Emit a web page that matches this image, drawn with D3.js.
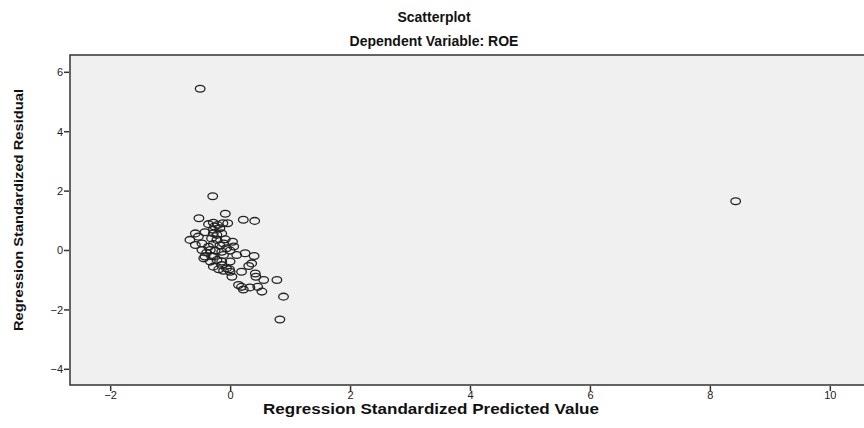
<!DOCTYPE html>
<html><head><meta charset="utf-8">
<script src="https://cdn.jsdelivr.net/npm/d3@7"></script>
<style>body{margin:0;background:#fff;}svg{display:block;}</style>
</head><body><svg id="c" width="864" height="428"></svg>
<script>
const title = "Scatterplot";
const subtitle = "Dependent Variable: ROE";
const xLabel = "Regression Standardized Predicted Value";
const yLabel = "Regression Standardized Residual";
const xTicks = [-2, 0, 2, 4, 6, 8, 10];
const yTicks = [-4, -2, 0, 2, 4, 6];
const predicted = [-0.50, 8.43, -0.29, -0.52, -0.08, 0.22, 0.41, -0.36, -0.28, -0.21, -0.12, -0.04, -0.26, -0.17, -0.42, -0.58, -0.28, -0.14, -0.67, -0.53, -0.31, -0.22, -0.08, 0.04, -0.58, -0.47, -0.28, -0.17, -0.47, -0.33, -0.25, -0.14, 0.00, -0.42, -0.28, -0.11, 0.11, 0.25, 0.40, -0.44, -0.33, -0.22, -0.14, 0.36, 0.31, -0.28, -0.19, -0.11, -0.01, 0.00, 0.19, 0.42, 0.43, 0.03, 0.56, 0.78, 0.14, 0.19, 0.33, 0.46, 0.53, 0.22, 0.89, 0.83, -0.28, -0.22, -0.06, -0.36, 0.00, -0.39, -0.14, -0.06, 0.06, -0.31, -0.11];
const residual = [5.43, 1.64, 1.81, 1.07, 1.22, 1.02, 0.98, 0.87, 0.92, 0.84, 0.90, 0.90, 0.79, 0.73, 0.60, 0.56, 0.56, 0.56, 0.34, 0.45, 0.39, 0.34, 0.36, 0.28, 0.17, 0.22, 0.20, 0.15, 0.00, 0.00, -0.02, -0.06, -0.02, -0.22, -0.22, -0.17, -0.17, -0.11, -0.20, -0.28, -0.39, -0.34, -0.39, -0.45, -0.54, -0.56, -0.65, -0.70, -0.65, -0.73, -0.73, -0.79, -0.90, -0.90, -1.01, -1.01, -1.18, -1.24, -1.26, -1.24, -1.40, -1.33, -1.57, -2.34, 0.68, 0.51, 0.06, 0.11, -0.39, -0.09, -0.51, -0.62, 0.12, -0.20, 0.22];

const svg = d3.select("#c");
const x = d3.scaleLinear().domain([-2.67, 10.57]).range([70, 864]);
const y = d3.scaleLinear().domain([-4.545, 6.566]).range([385, 55]);

svg.append("rect").attr("x", 70).attr("y", 55).attr("width", 810).attr("height", 330)
  .attr("fill", "#f0f0f0").attr("stroke", "#333").attr("stroke-width", 1.5);

const font = "'Liberation Sans', Arial, sans-serif";
svg.append("text").attr("x", 434).attr("y", 22).attr("text-anchor", "middle")
  .attr("font-family", font).attr("font-weight", "bold").attr("font-size", 14).attr("fill", "#111").text(title);
svg.append("text").attr("x", 434).attr("y", 46).attr("text-anchor", "middle")
  .attr("font-family", font).attr("font-weight", "bold").attr("font-size", 14).attr("fill", "#111").text(subtitle);

const xAxis = svg.append("g").attr("transform", "translate(0,386)")
  .call(d3.axisBottom(x).tickValues(xTicks).tickSize(5).tickFormat(d3.format("d")));
const yAxis = svg.append("g").attr("transform", "translate(69,0)")
  .call(d3.axisLeft(y).tickValues(yTicks).tickSize(5).tickFormat(d3.format("d")));
[xAxis, yAxis].forEach(g => {
  g.select(".domain").remove();
  g.selectAll(".tick line").attr("stroke", "#333").attr("stroke-width", 1.5);
  g.selectAll(".tick text").attr("font-family", font).attr("font-size", 11).attr("fill", "#222");
});
yAxis.selectAll(".tick text").attr("dy", "0.35em").attr("x", -6);
xAxis.selectAll(".tick text").attr("y", 5);

svg.append("text").attr("x", 431).attr("y", 414).attr("text-anchor", "middle")
  .attr("font-family", font).attr("font-weight", "bold").attr("font-size", 14).attr("fill", "#111")
  .attr("textLength", 336).attr("lengthAdjust", "spacingAndGlyphs").text(xLabel);
svg.append("text").attr("transform", "translate(23,210) rotate(-90)").attr("text-anchor", "middle")
  .attr("font-family", font).attr("font-weight", "bold").attr("font-size", 12).attr("fill", "#111")
  .attr("textLength", 242).attr("lengthAdjust", "spacingAndGlyphs").text(yLabel);

svg.append("g").selectAll("ellipse").data(predicted.map((p, i) => [p, residual[i]])).join("ellipse")
  .attr("cx", d => x(d[0])).attr("cy", d => y(d[1])).attr("rx", 4.8).attr("ry", 3.4)
  .attr("fill", "none").attr("stroke", "#222").attr("stroke-width", 1.3);
</script></body></html>
